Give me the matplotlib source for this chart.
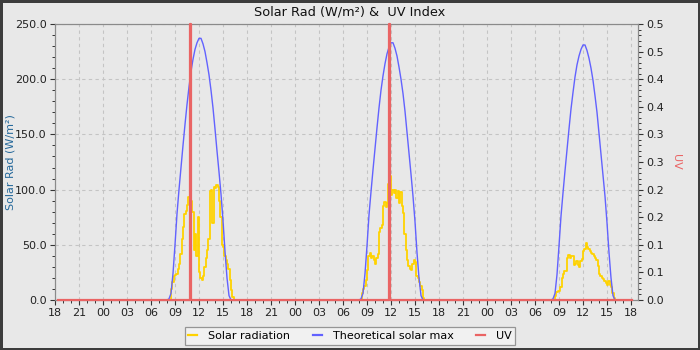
import numpy as np
import matplotlib
matplotlib.use("Agg")
import matplotlib.pyplot as plt
from matplotlib.ticker import MultipleLocator, FixedLocator, FixedFormatter

# ---------------- data ----------------
# Time axis: hours after 18:00 on the first evening
hour_labels = ["18", "21", "00", "03", "06", "09", "12", "15"] * 3 + ["18"]
midnight_offsets = [6, 30, 54]   # hours from start to each day's 00:00
series_start = 0.33              # first reading (18:20)
series_end = 72.17               # last reading (18:10, third day)

# Solar radiation (W/m²), 10-minute readings starting at the listed hour of day
rad_start = [8 + 20 / 60, 8 + 10 / 60, 8 + 20 / 60]
rad_day1 = [0, 10, 16, 22, 23, 24, 28, 33, 42, 55, 66, 78, 81, 86, 93, 115,
            90, 80, 45, 60, 40, 75, 25, 20, 18, 22, 30, 38, 45, 55, 99, 100,
            70, 102, 101, 104, 102, 90, 75, 50, 48, 40, 36, 33, 28, 18, 9, 3, 0]
rad_day2 = [0, 6, 10, 13, 18, 27, 40, 43, 38, 40, 36, 33, 38, 42, 62, 65,
            68, 85, 89, 84, 88, 105, 112, 95, 100, 97, 100, 92, 99, 88, 98, 85,
            79, 60, 45, 36, 31, 28, 27, 33, 36, 34, 22, 20, 16, 13, 9, 2, 0]
rad_day3 = [0, 4, 7, 8, 8, 12, 20, 24, 26, 26, 38, 41, 38, 40, 40, 32,
            33, 35, 32, 30, 35, 37, 44, 46, 52, 48, 46, 44, 43, 42, 40, 38,
            36, 31, 24, 22, 20, 19, 17, 15, 14, 17, 14, 12, 6, 2, 0]

# Theoretical solar max (W/m²), 15-minute values from 08:00
tsm_start = 8.0
tsm_day1 = [0, 1, 6, 24, 50, 78, 100, 120, 140, 159, 177, 193, 207, 218, 227, 233,
            237, 237, 232, 225, 215, 204, 190, 174, 155, 135, 116, 96, 72, 44, 20, 4, 0, 0]
tsm_day2 = [0, 1, 6, 24, 49, 77, 98, 118, 137, 156, 174, 190, 203, 214, 223, 229,
            233, 233, 228, 221, 211, 200, 187, 171, 152, 133, 114, 94, 71, 43, 20, 4, 0, 0]
tsm_day3 = [0, 1, 6, 23, 49, 76, 97, 117, 136, 155, 173, 188, 202, 213, 221, 227,
            231, 231, 226, 219, 210, 199, 185, 170, 151, 132, 113, 94, 70, 43, 20, 4, 0, 0]

# UV index readings (hours after start, value)
uv_hours = [0.33, 16.83, 17.0, 41.75, 41.92, 72.17]
uv_values = [0.0, 0.5, 0.0, 0.5, 0.0, 0.0]
uv_tick_labels = ["0.0", "0.1", "0.1", "0.2", "0.2", "0.3", "0.3", "0.4", "0.4", "0.5", "0.5"]


def assemble(starts, days, step):
    t = [series_start]
    v = [0.0]
    for off, s, vals in zip(midnight_offsets, starts, days):
        t += list(off + s + step * np.arange(len(vals)))
        v += list(vals)
    t.append(series_end)
    v.append(0.0)
    return np.array(t), np.array(v)


rad_t, rad_v = assemble(rad_start, [rad_day1, rad_day2, rad_day3], 1 / 6)
tsm_t, tsm_v = assemble([tsm_start] * 3, [tsm_day1, tsm_day2, tsm_day3], 0.25)

# ---------------- style ----------------
BG = "#e8e8e8"
GRID = "#c4c4c4"
SPINE = "#8a8a8a"
YELLOW = "#ffd200"
BLUE = "#6262ff"
RED = "#ea6464"
plt.rcParams["font.family"] = ["DejaVu Sans"]

fig = plt.figure(figsize=(7, 3.5), dpi=100)
fig.patch.set_facecolor(BG)
fig.patch.set_edgecolor("#3c3c3c")
fig.patch.set_linewidth(2.2)

ax = fig.add_axes([55 / 700, 50 / 350, 583 / 700, 276 / 350])
ax.set_facecolor(BG)
ax2 = ax.twinx()

l1, = ax.plot(rad_t, rad_v, color=YELLOW, lw=1.3, drawstyle="steps-post",
              label="Solar radiation", zorder=3)
l2, = ax.plot(tsm_t, tsm_v, color=BLUE, lw=1.0, label="Theoretical solar max", zorder=4)
l3, = ax2.plot(uv_hours, uv_values, color=RED, lw=1.6, drawstyle="steps-post",
               label="UV", zorder=5, clip_on=False)

ax.set_xlim(0, 72.875)
ax.set_ylim(0, 250)
ax2.set_ylim(0, 0.5)

ax.xaxis.set_major_locator(FixedLocator(np.arange(0, 73, 3)))
ax.xaxis.set_major_formatter(FixedFormatter(hour_labels))
ax.xaxis.set_minor_locator(MultipleLocator(1))
ax.yaxis.set_major_locator(MultipleLocator(50))
ax.yaxis.set_minor_locator(MultipleLocator(10))
ax.yaxis.set_major_formatter(plt.FuncFormatter(lambda v, p: f"{v:.1f}"))
ax2.yaxis.set_major_locator(FixedLocator(np.linspace(0, 0.5, 11)))
ax2.yaxis.set_major_formatter(FixedFormatter(uv_tick_labels))
ax2.yaxis.set_minor_locator(MultipleLocator(0.01))

ax.grid(True, which="major", color=GRID, linestyle=(0, (3, 3)), linewidth=0.8)
ax.set_axisbelow(True)

for a in (ax, ax2):
    for s in a.spines.values():
        s.set_color(SPINE)
        s.set_linewidth(0.8)
    a.tick_params(which="major", length=3.6, width=0.8, color="#333333",
                  labelsize=8, labelcolor="#222222", pad=2.5)
    a.tick_params(which="minor", length=2.2, width=0.7, color="#333333")

ax.set_ylabel("Solar Rad (W/m²)", fontsize=8, color="#24689a")
ax.yaxis.set_label_coords(-0.067, 0.5)
ax2.set_ylabel("UV", fontsize=8, color=RED, rotation=270)
ax2.yaxis.set_label_coords(1.066, 0.5)
ax2.yaxis.label.set_va("center")

fig.text(0.5, 1 - 12 / 350, "Solar Rad (W/m²) &  UV Index", ha="center", va="center",
         fontsize=9.3, color="#111111")

leg = fig.legend(handles=[l1, l2, l3], loc="center", bbox_to_anchor=(0.5, 14 / 350),
                 ncol=3, fontsize=8, frameon=True, fancybox=False, handlelength=0.8,
                 handletextpad=1.0, columnspacing=2.0, borderpad=0.35)
leg.get_frame().set_facecolor("#f4f4f4")
leg.get_frame().set_edgecolor("#808080")
leg.get_frame().set_linewidth(0.9)
for h in leg.get_lines():
    h.set_linewidth(1.6)

fig.savefig("out.png", dpi=100, facecolor=BG, edgecolor=fig.patch.get_edgecolor())
